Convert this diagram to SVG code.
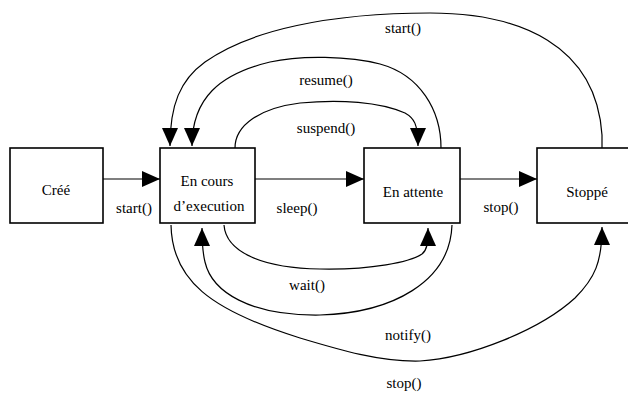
<svg xmlns="http://www.w3.org/2000/svg" width="628" height="394" viewBox="0 0 628 394">
<style>
.box{fill:#fff;stroke:#000;stroke-width:1.6}
.lbl{font-family:"Times New Roman","Liberation Serif",Times,serif;font-size:15px;fill:#000;text-anchor:middle}
.con{fill:none;stroke:#000;stroke-width:1.2}
.arr{marker-end:url(#ah)}
</style>
<defs>
<marker id="ah" markerUnits="userSpaceOnUse" markerWidth="18" markerHeight="16" refX="18" refY="8" orient="auto" viewBox="0 0 18 16">
<path d="M0,0 L18,8 L0,16 z" fill="#000"/>
</marker>
</defs>
<rect width="628" height="394" fill="#fff"/>
<g id="connectors">
<path class="con arr" d="M103,179 L160,179"/>
<path class="con arr" d="M255,179 L364,179"/>
<path class="con arr" d="M460,179 L537,179"/>
<path class="con arr" d="M602,148 L602,135 C 596,45 520,13 430,13 C 330,13 250,30 205,62 C 180,80 170,105 170,146"/>
<path class="con arr" d="M441,148 C 441,110 420,75 380,64 C 350,56 300,55 270,62 C 220,74 192,98 192,146"/>
<path class="con arr" d="M235,148 C 235,125 260,108 300,103 C 340,99 380,102 405,113 C 414,118 418,124 418,146"/>
<path class="con arr" d="M224,225 C 226,252 262,268 320,269 C 372,270 410,262 422,254 C 427,250 428,244 428,228"/>
<path class="con arr" d="M452,225 C 450,282 392,313 320,315 C 250,316 212,292 205,262 C 203,254 202,246 202,228"/>
<path class="con arr" d="M171,225 C 172,280 210,310 300,338 C 340,350 380,362 420,361 C 470,358 540,330 575,298 C 595,278 602,262 602,227"/>
</g>
<g id="node-cree">
<rect class="box" x="10" y="148" width="93" height="75"/>
<text class="lbl" x="56" y="195">Créé</text>
</g>
<g id="node-encours">
<rect class="box" x="160" y="148" width="95" height="75"/>
<text class="lbl" x="207" y="186">En cours</text>
<text class="lbl" x="209" y="211">d’execution</text>
</g>
<g id="node-enattente">
<rect class="box" x="364" y="148" width="96" height="75"/>
<text class="lbl" x="413" y="197">En attente</text>
</g>
<g id="node-stoppe">
<rect class="box" x="537" y="148" width="100" height="75"/>
<text class="lbl" x="587" y="197">Stoppé</text>
</g>
<g id="labels">
<text class="lbl" x="403" y="33">start()</text>
<text class="lbl" x="326" y="85">resume()</text>
<text class="lbl" x="326" y="133">suspend()</text>
<text class="lbl" x="134" y="213">start()</text>
<text class="lbl" x="297" y="213">sleep()</text>
<text class="lbl" x="501" y="212">stop()</text>
<text class="lbl" x="307" y="290">wait()</text>
<text class="lbl" x="408" y="340">notify()</text>
<text class="lbl" x="404" y="388">stop()</text>
</g>
</svg>
